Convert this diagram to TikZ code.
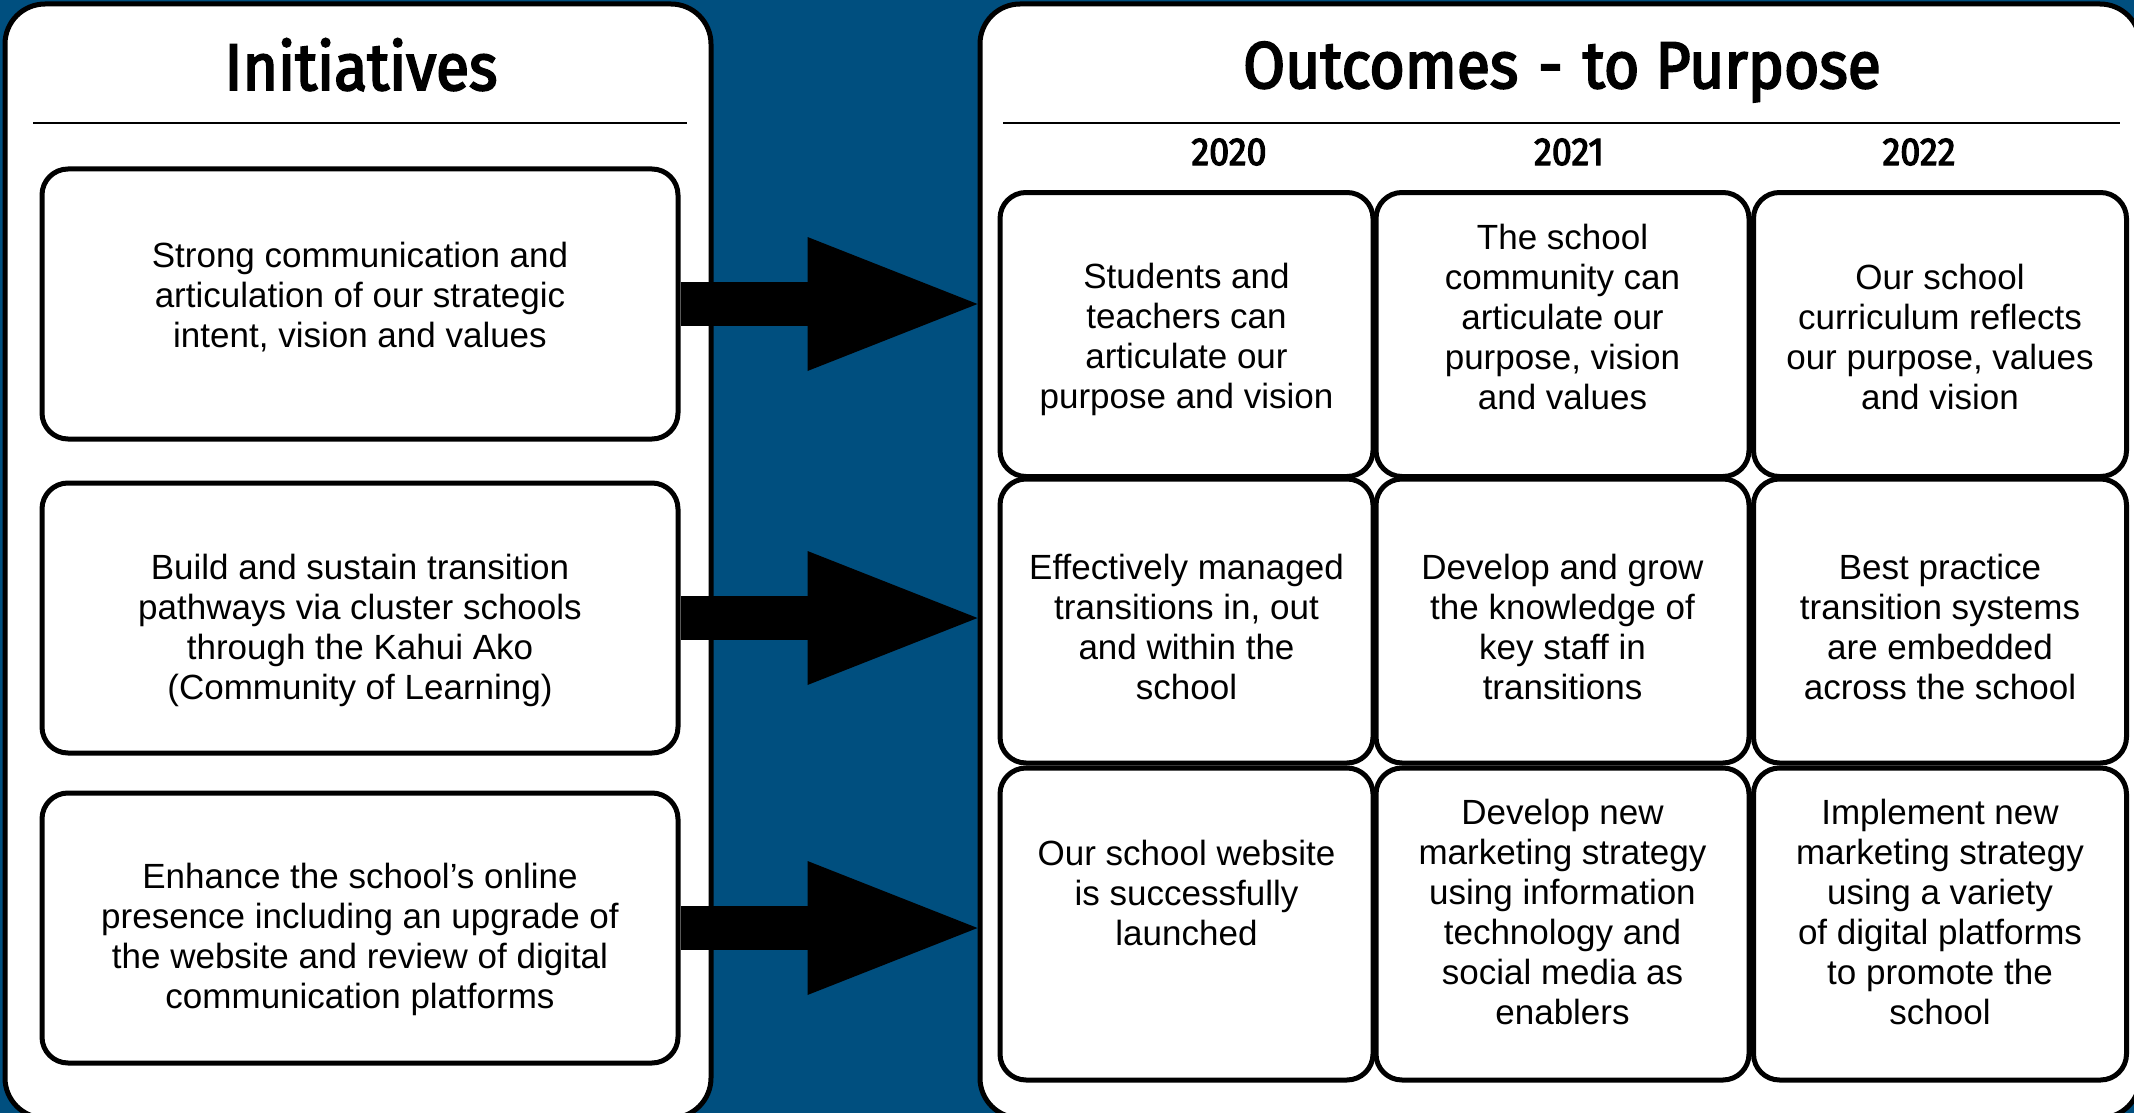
\documentclass[tikz,border=0pt]{standalone}
\usepackage{fontspec}
\setmainfont{Liberation Sans}
\newfontfamily\headfont[FakeStretch=0.92, FakeBold=3]{Fira Sans}
\usetikzlibrary{arrows.meta}
\definecolor{schoolblue}{RGB}{0,79,127}

\begin{document}
\begin{tikzpicture}[x=1pt, y=-1pt,
    panelStyle/.style={draw, line width=5pt, fill=white, rounded corners=40pt},
    initStyle/.style={draw, line width=5pt, fill=white, rounded corners=26pt, minimum width=636pt, minimum height=270pt},
    cellStyle/.style={draw, line width=5pt, fill=white, rounded corners=26pt, minimum width=373pt, minimum height=284pt},
    textStyle/.style={align=center, font=\fontsize{35}{40}\selectfont},
    headStyle/.style={anchor=base, font=\headfont\fontsize{66}{70}\selectfont},
    yearStyle/.style={anchor=base, font=\headfont\fontsize{39}{40}\selectfont},
    bigArrow/.style={line width=44pt, -{Triangle[length=170pt, width=134pt, line width=0pt]}}]
    \useasboundingbox (0,0) rectangle (2134,1113);
    \fill[schoolblue] (0,0) rectangle (2134,1113);

    % the two panels
    \node[panelStyle, minimum width=706pt, minimum height=1114pt](initiatives) at (358,561) {};
    \node[panelStyle, minimum width=1160pt, minimum height=1114pt](outcomes) at (1560,561) {};

    \node[headStyle](initTitle) at (361,90) {Initiatives};
    \node[headStyle](outTitle) at (1562,88) {Outcomes\hspace{4pt} - \hspace{4pt}to Purpose};
    \draw[line width=1.5pt] (33,123) -- (687,123);
    \draw[line width=1.5pt] (1003,123) -- (2120,123);

    \node[yearStyle](y2020) at (1229,165) {2020};
    \node[yearStyle](y2021) at (1569,165) {2021};
    \node[yearStyle](y2022) at (1919,165) {2022};

    % initiatives
    \node[initStyle](init1) at (360,304) {};
    \node[initStyle](init2) at (360,618) {};
    \node[initStyle](init3) at (360,928) {};
    \node[textStyle](init1Text) at (360,297.5) {Strong communication and\\articulation of our strategic\\intent, vision and values};
    \node[textStyle](init2Text) at (360,630.5) {Build and sustain transition\\pathways via cluster schools\\through the Kahui Ako\\(Community of Learning)};
    \node[textStyle](init3Text) at (360,939) {Enhance the school’s online\\presence including an upgrade of\\the website and review of digital\\communication platforms};

    % outcomes grid
    \node[cellStyle](o11) at (1186.5,334.5) {};
    \node[cellStyle](o12) at (1562.5,334.5) {};
    \node[cellStyle](o13) at (1940,334.5) {};
    \node[cellStyle](o21) at (1186.5,621) {};
    \node[cellStyle](o22) at (1562.5,621) {};
    \node[cellStyle](o23) at (1940,621) {};
    \node[cellStyle, minimum height=312pt](o31) at (1186.5,924) {};
    \node[cellStyle, minimum height=312pt](o32) at (1562.5,924) {};
    \node[cellStyle, minimum height=312pt](o33) at (1940,924) {};

    \node[textStyle](o11Text) at (1186.5,339.5) {Students and\\teachers can\\articulate our\\purpose and vision};
    \node[textStyle](o12Text) at (1562.5,316.5) {The school\\community can\\articulate our\\purpose, vision\\and values};
    \node[textStyle](o13Text) at (1940,336.5) {Our school\\curriculum reflects\\our purpose, values\\and vision};
    \node[textStyle](o21Text) at (1186.5,627) {Effectively managed\\transitions in, out\\and within the\\school};
    \node[textStyle](o22Text) at (1562.5,627) {Develop and grow\\the knowledge of\\key staff in\\transitions};
    \node[textStyle](o23Text) at (1940,627) {Best practice\\transition systems\\are embedded\\across the school};
    \node[textStyle](o31Text) at (1186.5,892.5) {Our school website\\is successfully\\launched};
    \node[textStyle](o32Text) at (1562.5,912) {Develop new\\marketing strategy\\using information\\technology and\\social media as\\enablers};
    \node[textStyle](o33Text) at (1940,912) {Implement new\\marketing strategy\\using a variety\\of digital platforms\\to promote the\\school};

    \draw[bigArrow] (init1.east) -- (init1.east -| outcomes.west);
    \draw[bigArrow] (init2.east) -- (init2.east -| outcomes.west);
    \draw[bigArrow] (init3.east) -- (init3.east -| outcomes.west);
\end{tikzpicture}
\end{document}
